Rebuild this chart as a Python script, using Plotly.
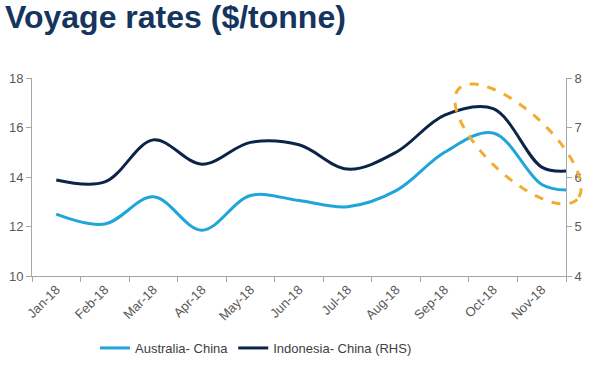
import numpy as np
import plotly.graph_objects as go

# ---- data ----
months = ["Jan-18", "Feb-18", "Mar-18", "Apr-18", "May-18", "Jun-18",
          "Jul-18", "Aug-18", "Sep-18", "Oct-18", "Nov-18"]
australia_china = [12.5, 12.1, 13.2, 11.85, 13.25, 13.05, 12.8, 13.45, 15.0, 15.78, 13.7]
indonesia_china = [5.94, 5.9, 6.75, 6.26, 6.7, 6.65, 6.16, 6.5, 7.25, 7.38, 6.2]
end_of_nov_aus = 13.47
end_of_nov_indo = 6.12

left_ticks = [10, 12, 14, 16, 18]
right_ticks = [4, 5, 6, 7, 8]

# ---- layout geometry ----
W, H = 600, 370
ML, MR, MT, MB = 32, 34, 78, 94
plot_w = W - ML - MR
plot_h = H - MT - MB
n = len(months)
x_pos = list(range(n)) + [n - 0.5]
xr = [-0.5, n - 0.5]
yr = [10, 18]

def px_to_paper(px, py):
    return (px - ML) / plot_w, (MT + plot_h - py) / plot_h

# rotated dashed ellipse (highlight), built in pixel space
cx, cy, a, b, ang = 518, 144, 81, 32, np.deg2rad(43)
t = np.linspace(0, 2 * np.pi, 90)
ex = cx + a * np.cos(t) * np.cos(ang) - b * np.sin(t) * np.sin(ang)
ey = cy + a * np.cos(t) * np.sin(ang) + b * np.sin(t) * np.cos(ang)
pts = [px_to_paper(u, v) for u, v in zip(ex, ey)]
path = "M " + " L ".join(f"{p[0]:.5f},{p[1]:.5f}" for p in pts) + " Z"

LIGHT = "#1fa5d9"
DARK = "#0b2447"
GRID = "#a6a6a6"
TXT = "#595959"
FONT = "Liberation Sans, Arial, sans-serif"

fig = go.Figure()
fig.add_trace(go.Scatter(
    x=x_pos, y=australia_china + [end_of_nov_aus], name="Australia- China",
    mode="lines", line=dict(color=LIGHT, width=3, shape="spline", smoothing=1.0),
    yaxis="y", cliponaxis=False))
fig.add_trace(go.Scatter(
    x=x_pos, y=indonesia_china + [end_of_nov_indo], name="Indonesia- China (RHS)",
    mode="lines", line=dict(color=DARK, width=3, shape="spline", smoothing=1.0),
    yaxis="y2", cliponaxis=False))

fig.add_shape(type="path", path=path, xref="paper", yref="paper",
              line=dict(color="#f2ac2f", width=3, dash="dash"))

fig.update_layout(
    width=W, height=H,
    margin=dict(l=ML, r=MR, t=MT, b=MB, autoexpand=False),
    paper_bgcolor="white", plot_bgcolor="white",
    font=dict(family=FONT, color=TXT, size=13),
    title=dict(text="<b>Voyage rates ($/tonne)</b>", x=5 / W, xanchor="left",
               xref="container", yref="container", y=1 - 6 / H, yanchor="top",
               font=dict(family=FONT, size=32, color="#15355f")),
    showlegend=True,
    legend=dict(orientation="h", x=(256 - ML) / plot_w, xanchor="center",
                y=(MT + plot_h - 348) / plot_h, yanchor="middle",
                font=dict(size=13, color="#404040"), itemwidth=30,
                tracegroupgap=0, bgcolor="rgba(0,0,0,0)"),
    xaxis=dict(range=xr, tickmode="array", tickvals=list(range(n)), ticktext=months,
               tickangle=-45, ticks="", showgrid=False, zeroline=False,
               showline=True, linecolor=GRID, linewidth=1, automargin=False,
               tickfont=dict(size=13, color=TXT),
               minor=dict(tickmode="array", tickvals=[i - 0.5 for i in range(n + 1)],
                          ticks="outside", ticklen=5, tickcolor=GRID, showgrid=False)),
    yaxis=dict(range=yr, tickvals=left_ticks, showgrid=False, zeroline=False,
               showline=True, linecolor=GRID, linewidth=1, ticks="outside",
               ticklen=5, tickcolor=GRID, automargin=False,
               tickfont=dict(size=13, color=TXT)),
    yaxis2=dict(range=[4, 8], tickvals=right_ticks, overlaying="y", side="right",
                showgrid=False, zeroline=False, showline=True, linecolor=GRID,
                linewidth=1, ticks="outside", ticklen=5, tickcolor=GRID,
                automargin=False, tickfont=dict(size=13, color=TXT)),
)

fig.write_html("out.html", config={"displayModeBar": False},
               post_script="document.body.style.margin='0px';document.body.style.overflow='hidden';")
